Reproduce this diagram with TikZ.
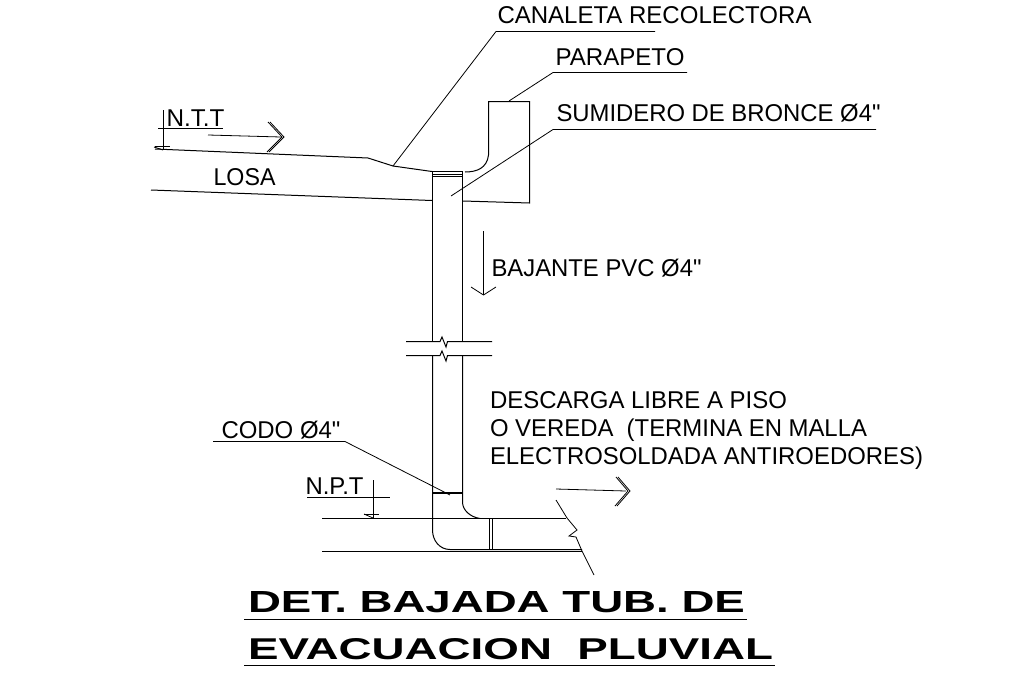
\documentclass[tikz,border=0pt]{standalone}
\usepackage{fontspec}
\newfontfamily\labf{Liberation Sans}
\newcommand{\fitw}[2]{\resizebox{#1pt}{1.08\height}{#2}}
\tikzset{
  ln/.style={line width=1pt,black,line cap=butt,line join=miter},
  thinl/.style={line width=0.8pt,black},
  lab/.style={anchor=base west,inner sep=0pt,outer sep=0pt,font=\labf\fontsize{22.5}{22.5}\selectfont,text=black},
  ttl/.style={anchor=base west,inner sep=0pt,outer sep=0pt,font=\labf\fontsize{28}{28}\selectfont\bfseries,text=black}
}
\begin{document}
\begin{tikzpicture}[x=1pt,y=-1pt]
\useasboundingbox (0,0) rectangle (1030,672);
% labels
\node[lab] (canaleta) at (497.5,23) {\fitw{314}{CANALETA RECOLECTORA}};
\node[lab] (parapeto) at (555.5,65) {\fitw{129}{PARAPETO}};
\node[lab] (sumidero) at (556.5,121) {\fitw{324}{SUMIDERO DE BRONCE Ø4"}};
\node[lab] (ntt) at (166.5,126) {\fitw{58}{N.T.T}};
\node[lab] (losa) at (213.5,185) {\fitw{62}{LOSA}};
\node[lab] (bajante) at (491.5,276) {\fitw{210}{BAJANTE PVC Ø4"}};
\node[lab] (desc1) at (490,408) {\fitw{297}{DESCARGA LIBRE A PISO}};
\node[lab] (desc2) at (490,436) {\fitw{377}{O VEREDA~~(TERMINA EN MALLA}};
\node[lab] (desc3) at (490,464) {\fitw{433}{ELECTROSOLDADA ANTIROEDORES)}};
\node[lab] (codo) at (221.5,438) {\fitw{119}{CODO Ø4"}};
\node[lab] (npt) at (305.5,494) {\fitw{58}{N.P.T}};
\node[ttl] (t1) at (248,612) {\resizebox{497pt}{21pt}{DET. BAJADA TUB. DE}};
\node[ttl] (t2) at (248,659) {\resizebox{525pt}{21pt}{EVACUACION~~PLUVIAL}};
% title underlines
\draw[ln] (244,619.5) -- (747,619.5);
\draw[ln] (244,665.5) -- (775,665.5);
% leaders
\coordinate (cA) at (496,31.5); \coordinate (cB) at (655,31.5); \coordinate (cT) at (393,166);
\coordinate (pA) at (553,72.5); \coordinate (pB) at (687,72.5); \coordinate (pT) at (509,101);
\coordinate (sA) at (553,129.5); \coordinate (sB) at (876,129.5); \coordinate (sT) at (451,196);
\coordinate (kA) at (345,441.5); \coordinate (kB) at (213,441.5); \coordinate (kT) at (450,495);
\draw[thinl] (cT) -- (cA) -- (cB);
\draw[thinl] (pT) -- (pA) -- (pB);
\draw[thinl] (sT) -- (sA) -- (sB);
\draw[thinl] (kT) -- (kA) -- (kB);
% slab
\draw[ln] (155,149) -- (368,158) -- (393,166) -- (432,171.5);
\draw[ln] (151,190) -- (432,200.5);
% parapet
\draw[ln] (465,172) .. controls (477,172) and (487,168) .. (488.5,155) -- (488.5,101.5) -- (529.5,101.5) -- (529.5,203) -- (463,201);
% pipe
\draw[ln] (432,171.5) -- (463,171.5);
\draw[ln] (432,174.5) -- (463,174.5);
\draw[ln] (432,176.5) -- (463,176.5);
\draw[ln] (432.5,172) -- (432.5,341);
\draw[ln] (462.5,172) -- (462.5,341);
\draw[ln] (406,341.5) -- (440,341.5) -- (442,337) -- (446,347) -- (447.5,341.5) -- (492,341.5);
\draw[ln] (406,355.5) -- (440,355.5) -- (442,351) -- (446,361) -- (447.5,355.5) -- (492,355.5);
\draw[ln] (432.5,355) -- (432.5,530) .. controls (432.5,541) and (440,549.5) .. (450,549.5) -- (582,549.5);
\draw[ln] (462.5,355) -- (462.5,502) .. controls (462.5,510) and (470,517) .. (480,518.5);
\draw[line width=2pt,black] (432,493) -- (463,493);
% floor
\draw[ln] (322,518.5) -- (566,518.5);
\draw[ln] (322,551.5) -- (582,551.5);
\draw[ln] (489.5,518) -- (489.5,549);
\draw[ln] (492.5,518) -- (492.5,549);
\draw[thinl] (556,500) -- (567,518) -- (577,530) -- (569,536) -- (576,537) -- (582,551) -- (594,575);
% NTT mark
\draw[ln] (163.5,110) -- (163.5,150);
\draw[ln] (158,128.5) -- (223,128.5);
\draw[ln] (155,146.5) -- (170,146.5);
\draw[thinl] (154,147) -- (163,150);
% NPT mark
\draw[ln] (373.5,480) -- (373.5,518);
\draw[ln] (307,497.5) -- (390,497.5);
\draw[ln] (364,514.5) -- (379,514.5);
\draw[thinl] (364,514) -- (373,518);
% arrows
\draw[thinl] (208,135) -- (281,137);
\draw[thinl] (268,122) -- (282,137) -- (267,152);
\draw[thinl] (270,122) -- (284,137) -- (269,152);
\draw[thinl] (556,489) -- (626,491);
\draw[thinl] (616,477) -- (628,491) -- (615,506);
\draw[thinl] (618,477) -- (630,491) -- (617,506);
\draw[thinl] (483.5,231) -- (483.5,295);
\draw[thinl] (471,287) -- (483.5,295) -- (496,287);
\end{tikzpicture}
\end{document}
